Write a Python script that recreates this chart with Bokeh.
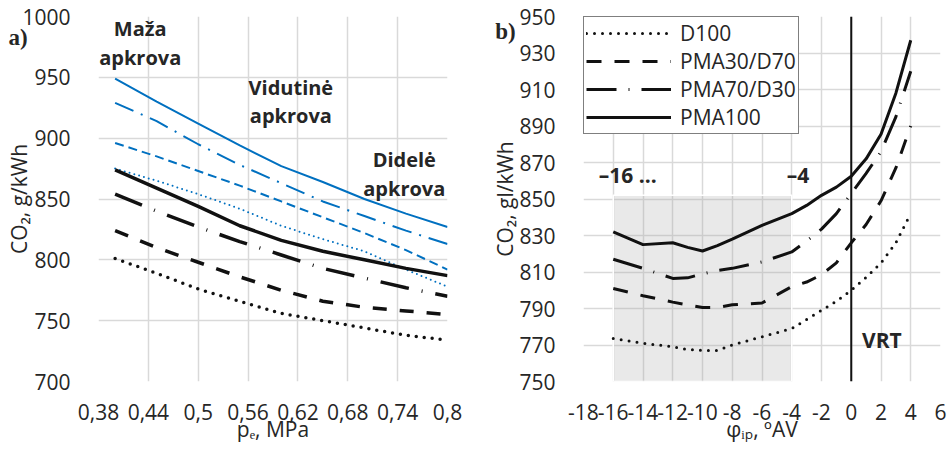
import math
from bokeh.plotting import figure
from bokeh.layouts import row
from bokeh.models import Range1d, FixedTicker, Label, Legend, LegendItem, Span
from bokeh.embed import file_html
from bokeh.resources import INLINE

# ---------------- data: chart a) ----------------
pe = [0.4, 0.45, 0.5, 0.55, 0.6, 0.65, 0.7, 0.75, 0.8]
blue_solid = [949, 930, 912, 894, 877, 864, 850, 838, 827]
blue_dashdot = [929, 914, 895, 878, 863, 848, 836, 824, 813]
blue_dashed = [896, 885, 873, 861, 848, 835, 822, 808, 792]
blue_dotted = [875, 865, 854, 842, 828, 817, 807, 792, 778]
black_solid = [874, 859, 844, 828, 816, 807, 800, 793, 787]
black_dashdot = [854, 840, 827, 815, 804, 793, 785, 777, 770]
black_dashed = [824, 810, 798, 786, 775, 766, 761, 758, 755]
black_dotted = [801, 789, 776, 766, 756, 750, 744, 738, 734]

a_x_ticks = [0.38, 0.44, 0.5, 0.56, 0.62, 0.68, 0.74, 0.8]
a_x_labels = ["0,38", "0,44", "0,5", "0,56", "0,62", "0,68", "0,74", "0,8"]
a_y_ticks = [700, 750, 800, 850, 900, 950, 1000]

# ---------------- data: chart b) ----------------
phi = [-16, -14, -12, -11, -10, -9, -8, -6, -4, -3, -2, -1, 0, 1, 2, 3, 4]
d100 = [773.5, 771, 769, 767.5, 767, 767, 770, 774.5, 779, 784, 789, 794, 800, 807, 815, 826, 842]
pma30 = [801, 797, 793.5, 792, 790.5, 790.5, 792, 793, 802, 804.5, 808.5, 815, 826, 836, 849, 867, 890]
pma70 = [817, 812, 806.5, 806.8, 809, 810.8, 812, 815.5, 821, 827, 833.5, 842, 853, 864, 876, 895, 920]
pma100 = [832, 825, 826, 823.5, 821.5, 824.5, 828, 835.5, 842, 846.5, 852, 856.5, 862.5, 872, 885.5, 908, 937]
series_names = ["D100", "PMA30/D70", "PMA70/D30", "PMA100"]

b_x_ticks = [-18, -16, -14, -12, -10, -8, -6, -4, -2, 0, 2, 4, 6]
b_x_labels = ["-18", "-16", "-14", "-12", "-10", "-8", "-6", "-4", "-2", "0", "2", "4", "6"]
b_y_ticks = [750, 770, 790, 810, 830, 850, 870, 890, 910, 930, 950]

box_x = [-16, -4]
box_y = [750, 852]

FONT = "Open Sans"
TXT = "#262626"
GRID = "#D9D9D9"
BLUE = "#0070C0"
BLACK = "#111111"


def style(p, xlabel, ylabel, ylabel_standoff):
    p.outline_line_color = None
    p.background_fill_color = "white"
    p.border_fill_color = "white"
    for ax in (p.xaxis, p.yaxis):
        ax.axis_line_color = None
        ax.major_tick_line_color = None
        ax.minor_tick_line_color = None
        ax.major_label_text_font = FONT
        ax.major_label_text_font_size = "21px"
        ax.major_label_text_color = TXT
        ax.axis_label_text_font = FONT
        ax.axis_label_text_font_size = "21px"
        ax.axis_label_text_font_style = "normal"
        ax.axis_label_text_color = TXT
    p.yaxis.major_label_standoff = 22
    p.xaxis.major_label_standoff = 16
    p.xaxis.axis_label = xlabel
    p.yaxis.axis_label = ylabel
    p.xaxis.axis_label_standoff = -8
    p.yaxis.axis_label_standoff = ylabel_standoff
    for g in (p.xgrid, p.ygrid):
        g.grid_line_color = GRID
        g.grid_line_width = 1.5


def lab(p, x, y, text, size="21px", style_="normal", font=FONT, place=None):
    units = "data" if place is None else "canvas"
    lbl = Label(x=x, y=y, text=text, text_font=font, text_font_size=size,
                text_font_style=style_, text_align="center", text_baseline="middle",
                text_color=TXT, x_units=units, y_units=units)
    if place is None:
        p.add_layout(lbl)
    else:
        p.add_layout(lbl, place)


# ---------------- chart a) ----------------
p1 = figure(width=468, height=450, x_range=Range1d(0.38, 0.8), y_range=Range1d(700, 1000),
            output_backend="svg", toolbar_location=None,
            min_border_left=98, min_border_right=21, min_border_top=16, min_border_bottom=67)
style(p1, "pₑ, MPa", "CO₂, g/kWh", -14)
p1.xaxis.ticker = FixedTicker(ticks=a_x_ticks)
p1.xaxis.major_label_overrides = dict(zip(a_x_ticks, a_x_labels))
p1.yaxis.ticker = FixedTicker(ticks=a_y_ticks)

p1.line(pe, blue_solid, line_color=BLUE, line_width=2)
p1.line(pe, blue_dashdot, line_color=BLUE, line_width=2, line_dash="20 8 2 8")
p1.line(pe, blue_dashed, line_color=BLUE, line_width=2, line_dash="9 5")
p1.line(pe, blue_dotted, line_color=BLUE, line_width=2, line_dash="0 5", line_cap="round")
p1.line(pe, black_solid, line_color=BLACK, line_width=3.5)
p1.line(pe, black_dashdot, line_color=BLACK, line_width=3.5, line_dash="29 13 1 13")
p1.line(pe, black_dashed, line_color=BLACK, line_width=3.5, line_dash="14 13")
p1.line(pe, black_dotted, line_color=BLACK, line_width=3.5, line_dash="0 8", line_cap="round")

lab(p1, 0.4302, 990.2, "Maža", "20px", "bold")
lab(p1, 0.4302, 966.5, "apkrova", "20px", "bold")
lab(p1, 0.6115, 942.0, "Vidutinė", "20px", "bold")
lab(p1, 0.6115, 918.3, "apkrova", "20px", "bold")
lab(p1, 0.748, 882.3, "Didelė", "20px", "bold")
lab(p1, 0.748, 858.6, "apkrova", "20px", "bold")
# panel letter outside the frame (canvas pixels; kept in a side panel with spare room)
lab(p1, 17.5, 37, "a)", "23px", "bold", font="Liberation Serif", place="right")

# ---------------- chart b) ----------------
p2 = figure(width=483, height=450, x_range=Range1d(-18, 6), y_range=Range1d(750, 950),
            output_backend="svg", toolbar_location=None,
            min_border_left=108, min_border_right=11, min_border_top=16, min_border_bottom=69)
style(p2, "φᵢₚ, ºAV", "CO₂, gl/kWh", -3)
p2.xaxis.ticker = FixedTicker(ticks=b_x_ticks)
p2.xaxis.major_label_overrides = dict(zip(b_x_ticks, b_x_labels))
p2.yaxis.ticker = FixedTicker(ticks=b_y_ticks)

p2.quad(left=[box_x[0]], right=[box_x[1]], bottom=[box_y[0]], top=[box_y[1]],
        fill_color="#A6A6A6", fill_alpha=0.25, line_color="white", line_width=1.5)

r1 = p2.line(phi, d100, line_color=BLACK, line_width=3, line_dash="0 8", line_cap="round")
r2 = p2.line(phi, pma30, line_color=BLACK, line_width=3, line_dash="15 13")
r3 = p2.line(phi, pma70, line_color=BLACK, line_width=3, line_dash="30 12 1 12")
r4 = p2.line(phi, pma100, line_color=BLACK, line_width=3)

p2.add_layout(Span(location=0, dimension="height", line_color=BLACK, line_width=2))

legend = Legend(items=[LegendItem(label=n, renderers=[r]) for n, r in zip(series_names, [r1, r2, r3, r4])],
                location="top_left", margin=0, padding=2, spacing=0,
                glyph_width=85, glyph_height=20, label_height=20, label_standoff=9,
                label_text_font=FONT, label_text_font_size="21px", label_text_color=TXT,
                label_text_line_height=0.95,
                border_line_color="black", border_line_width=1.5, background_fill_alpha=1.0)
p2.add_layout(legend)

lab(p2, -15.02, 862.9, "–16 ...", "21px", "bold")
lab(p2, -3.58, 862.9, "–4", "21px", "bold")
lab(p2, 2.06, 773.0, "VRT", "21px", "bold")
lab(p2, 37, 31, "b)", "23px", "bold", font="Liberation Serif", place="left")

layout = row(p1, p2)
open("out.html", "w").write(file_html(layout, INLINE))
